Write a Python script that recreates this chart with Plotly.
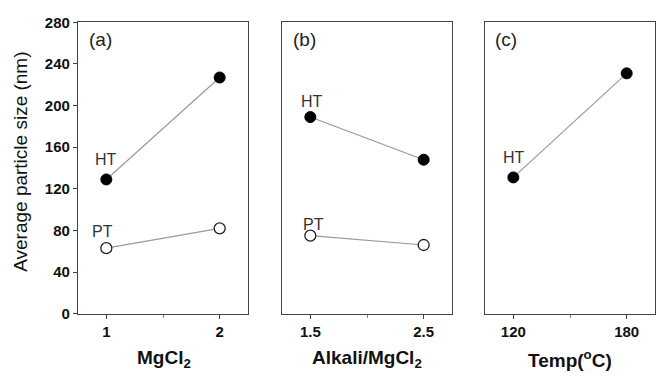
import plotly.graph_objects as go

# Data
x_a = [1, 2]
ht_a = [129, 227]
pt_a = [63, 82]

x_b = [1.5, 2.5]
ht_b = [189, 148]
pt_b = [75, 66]

x_c = [120, 180]
ht_c = [131, 231]

y_ticks = [0, 40, 80, 120, 160, 200, 240, 280]
xtick_a = [1, 2]
xtick_b = [1.5, 2.5]
xtick_c = [120, 180]

W, H = 665, 379
def fx(px): return px / W
def fy(py): return 1 - py / H

fig = go.Figure()

line_col = "#999999"
mk_fill = dict(color="black", size=11, line=dict(color="black", width=1))
mk_open = dict(color="white", size=11, line=dict(color="#222", width=1.3))

def add_series(x, y, xa, ya, marker):
    fig.add_trace(go.Scatter(x=x, y=y, xaxis=xa, yaxis=ya, mode="lines+markers",
                             line=dict(color=line_col, width=1.2), marker=marker,
                             showlegend=False))

add_series(x_a, ht_a, "x", "y", mk_fill)
add_series(x_a, pt_a, "x", "y", mk_open)
add_series(x_b, ht_b, "x2", "y2", mk_fill)
add_series(x_b, pt_b, "x2", "y2", mk_open)
add_series(x_c, ht_c, "x3", "y3", mk_fill)

axcol = "#444"
tickfont = dict(family="Liberation Sans", size=15, color="#111")

def xax(dom, rng, tv, anchor, minor):
    return dict(domain=dom, range=rng, tickvals=tv, ticktext=["<b>%s</b>" % v for v in tv],
                showline=True, linecolor=axcol, linewidth=1.2, mirror=True,
                ticks="outside", ticklen=4, tickcolor=axcol, showgrid=False,
                zeroline=False, tickfont=tickfont, anchor=anchor,
                minor=dict(tickvals=minor, ticks="outside", ticklen=3, tickcolor="#888"))

def yax(anchor, show):
    d = dict(domain=[fy(319), fy(14)], range=[0, 280], showline=True, linecolor=axcol,
             linewidth=1.2, mirror=True, showgrid=False, zeroline=False, anchor=anchor)
    if show:
        d.update(tickvals=y_ticks, ticktext=["<b>%d</b>" % v for v in y_ticks],
                 ticks="outside", ticklen=4, tickcolor=axcol, tickfont=tickfont)
    else:
        d.update(showticklabels=False, ticks="")
    return d

fig.update_layout(
    width=W, height=H, margin=dict(l=0, r=0, t=0, b=0),
    paper_bgcolor="white", plot_bgcolor="white",
    xaxis=xax([fx(78), fx(248)], [0.75, 2.25], xtick_a, "y", [1.5]),
    xaxis2=xax([fx(282), fx(452)], [1.25, 2.75], xtick_b, "y2", [2.0]),
    xaxis3=xax([fx(485), fx(655)], [105, 195], xtick_c, "y3", [150]),
    yaxis=yax("x", True),
    yaxis2=yax("x2", False),
    yaxis3=yax("x3", False),
)

panfont = dict(family="Liberation Sans", size=19, color="#222")
labfont = dict(family="Liberation Sans", size=16, color="#333")
panels = [
    dict(text="(a)", x=0.95, xref="x", y=264, yref="y"),
    dict(text="(b)", x=1.446, xref="x2", y=264, yref="y2"),
    dict(text="(c)", x=116, xref="x3", y=264, yref="y3"),
]
labels = [
    dict(text="HT", x=1, xref="x", y=148, yref="y"),
    dict(text="PT", x=0.967, xref="x", y=79, yref="y"),
    dict(text="HT", x=1.518, xref="x2", y=204, yref="y2"),
    dict(text="PT", x=1.527, xref="x2", y=86, yref="y2"),
    dict(text="HT", x=120.2, xref="x3", y=150.6, yref="y3"),
]
for a in panels:
    fig.add_annotation(showarrow=False, font=panfont, xanchor="center", yanchor="middle", **a)
for a in labels:
    fig.add_annotation(showarrow=False, font=labfont, xanchor="center", yanchor="middle", **a)

tfont = dict(family="Liberation Sans", size=19, color="#111")
for txt, cx in [("<b>MgCl<sub>2</sub></b>", 164), ("<b>Alkali/MgCl<sub>2</sub></b>", 367),
                ("<b>Temp(<sup>o</sup>C)</b>", 570)]:
    fig.add_annotation(text=txt, x=fx(cx), y=fy(366), xref="paper", yref="paper",
                       showarrow=False, font=tfont, xanchor="center", yanchor="middle")
fig.add_annotation(text="Average particle size (nm)", x=fx(21), y=fy(160), xref="paper", yref="paper",
                   showarrow=False, textangle=-90, font=dict(family="Liberation Sans", size=19, color="#111"),
                   xanchor="center", yanchor="middle")

fig.write_html("out.html")
